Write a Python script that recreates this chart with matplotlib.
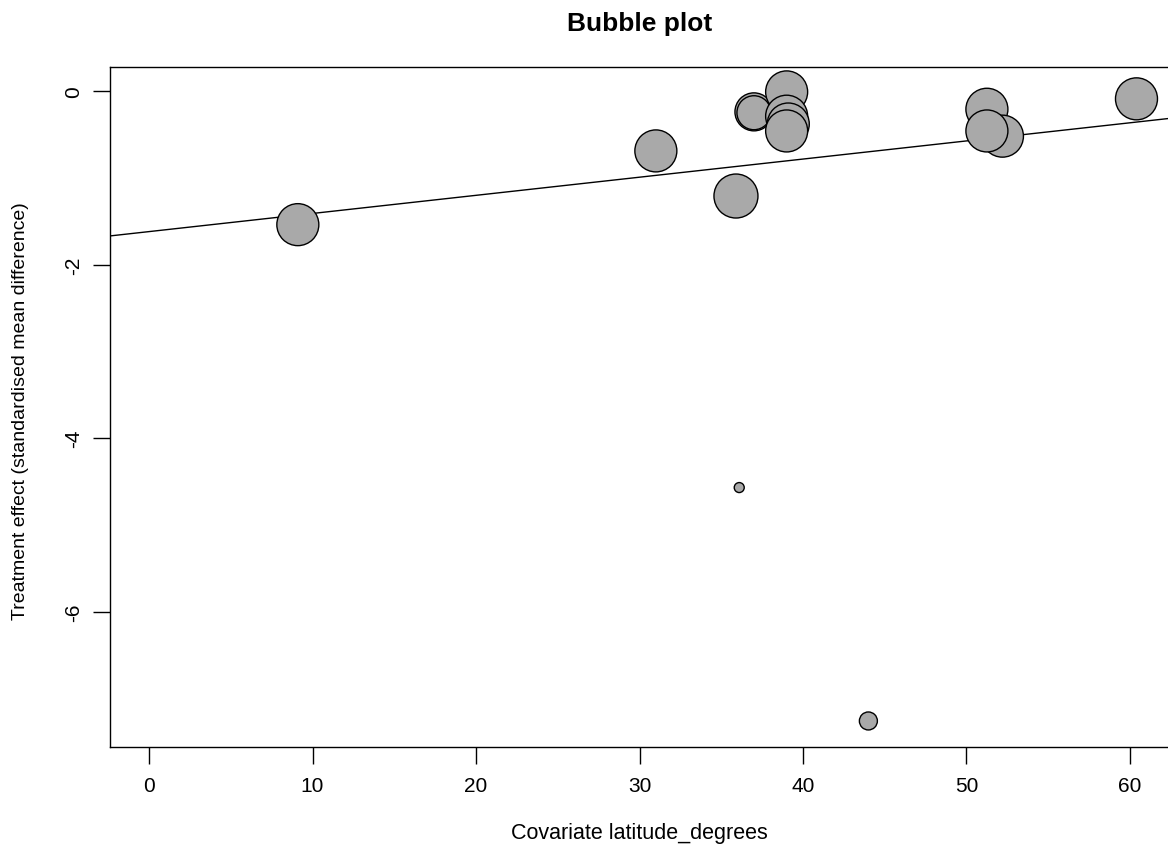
import matplotlib
matplotlib.use("Agg")
import matplotlib.pyplot as plt
import numpy as np

# Data
latitude = [9.1, 31.0, 35.9, 36.1, 37.0, 37.0, 39.0, 39.0, 39.1, 39.0, 51.25, 52.2, 51.25, 60.4, 44.0]
effect = [-1.54, -0.69, -1.21, -4.57, -0.24, -0.25, -0.01, -0.29, -0.38, -0.46, -0.21, -0.52, -0.46, -0.09, -7.26]
radius_px = [21, 21, 22, 5, 19, 17, 21, 21, 21, 21, 21, 21, 21, 21, 9]

intercept = -1.62
slope = 0.0209

xticks = [0, 10, 20, 30, 40, 50, 60]
yticks = [0, -2, -4, -6]

plt.rcParams['font.family'] = ['Liberation Sans', 'DejaVu Sans']

fig = plt.figure(figsize=(11.68, 8.45), dpi=100)
ax = fig.add_axes([110/1168, 97/845, 1060/1168, 680/845])

dpi = 100
sizes = [(2 * r * 72 / dpi) ** 2 for r in radius_px]
ax.scatter(latitude, effect, s=sizes, facecolor='#a9a9a9', edgecolor='black', linewidth=1.0, zorder=3)

xlim = (-2.39, 62.45)
ax.set_xlim(*xlim)
ax.set_ylim(-7.56, 0.277)
xs = np.array(xlim)
ax.plot(xs, intercept + slope * xs, color='black', linewidth=1.0, zorder=2)

ax.set_xticks(xticks)
ax.set_yticks(yticks)
ax.set_xticklabels([str(t) for t in xticks])
ax.set_yticklabels([str(t) for t in yticks], rotation=90, va='center')
ax.tick_params(axis='both', direction='out', length=12, width=1, labelsize=15)
ax.tick_params(axis='x', pad=9)
ax.tick_params(axis='y', pad=7)
for sp in ax.spines.values():
    sp.set_linewidth(1.0)

ax.set_xlabel('Covariate latitude_degrees', fontsize=15.5)
ax.xaxis.set_label_coords(0.4995, (845 - 834 - 97) / 680)
ax.xaxis.label.set_va('center')
ax.set_ylabel('Treatment effect (standardised mean difference)', fontsize=14)
ax.yaxis.set_label_coords((21 - 110) / 1060, 0.4956)
ax.yaxis.label.set_va('center')
ax.set_title('Bubble plot', fontsize=19, fontweight='bold', y=(845 - 32 - 97) / 680, va='center')

fig.savefig('out.png', dpi=100)
